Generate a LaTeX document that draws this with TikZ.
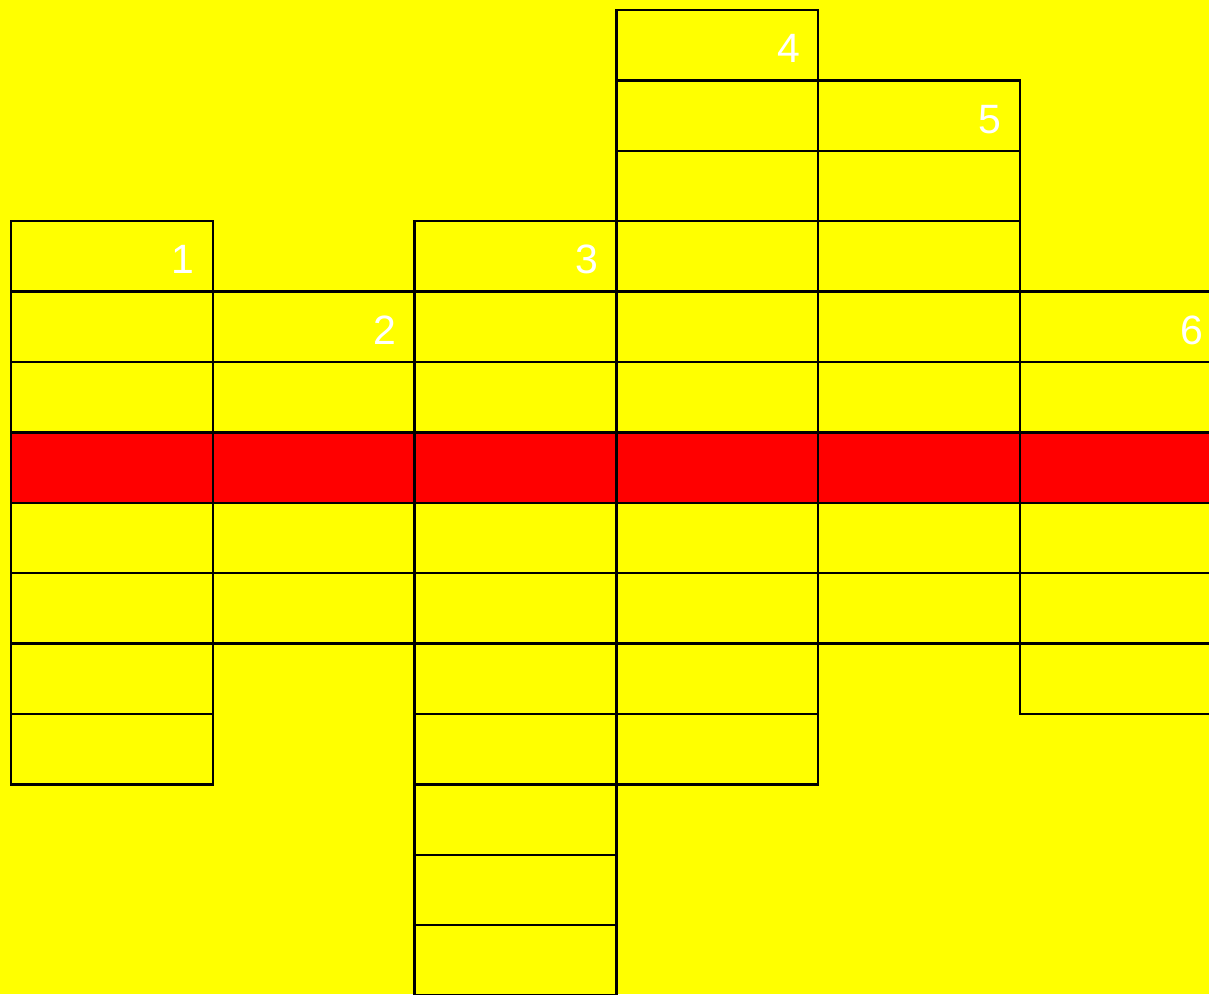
\documentclass[tikz,border=0pt]{standalone}
\usepackage{fontspec}
\setmainfont{Liberation Sans}
\usetikzlibrary{positioning}
\definecolor{gridyellow}{RGB}{255,255,0}
\definecolor{gridred}{RGB}{255,0,0}

\begin{document}
\begin{tikzpicture}[
    cell/.style={draw=black, line width=1.3pt, rectangle,
        minimum width=4.036cm, minimum height=1.408cm,
        inner sep=0pt, outer sep=0pt},
    clue/.style={text=white, inner sep=0pt,
        font=\fontsize{23.3pt}{28pt}\selectfont}]
    \fill[gridyellow] (0,0) rectangle (24.18,-19.88);
    \useasboundingbox (0,0) rectangle (24.18,-19.88);
    % columns: number / first row / last row
    \foreach \col/\top/\bot in {1/3/10, 2/4/8, 3/3/13, 4/0/10, 5/1/8, 6/4/9} {
        \foreach \row in {\top,...,\bot} {
            \ifnum\row=6 \def\cfill{gridred}\else\def\cfill{gridyellow}\fi
            \node[cell, fill=\cfill] (c\col-\row)
                at ({2.238+4.036*(\col-1)}, {-0.904-1.408*\row}) {};
        }
    }
    \foreach \col/\top in {1/3, 2/4, 3/3, 4/0, 5/1, 6/4}
        \node[clue, anchor=base east] (n\col)
            at ([xshift=-0.36cm, yshift=-0.35cm]c\col-\top.east) {\col};
\end{tikzpicture}
\end{document}
